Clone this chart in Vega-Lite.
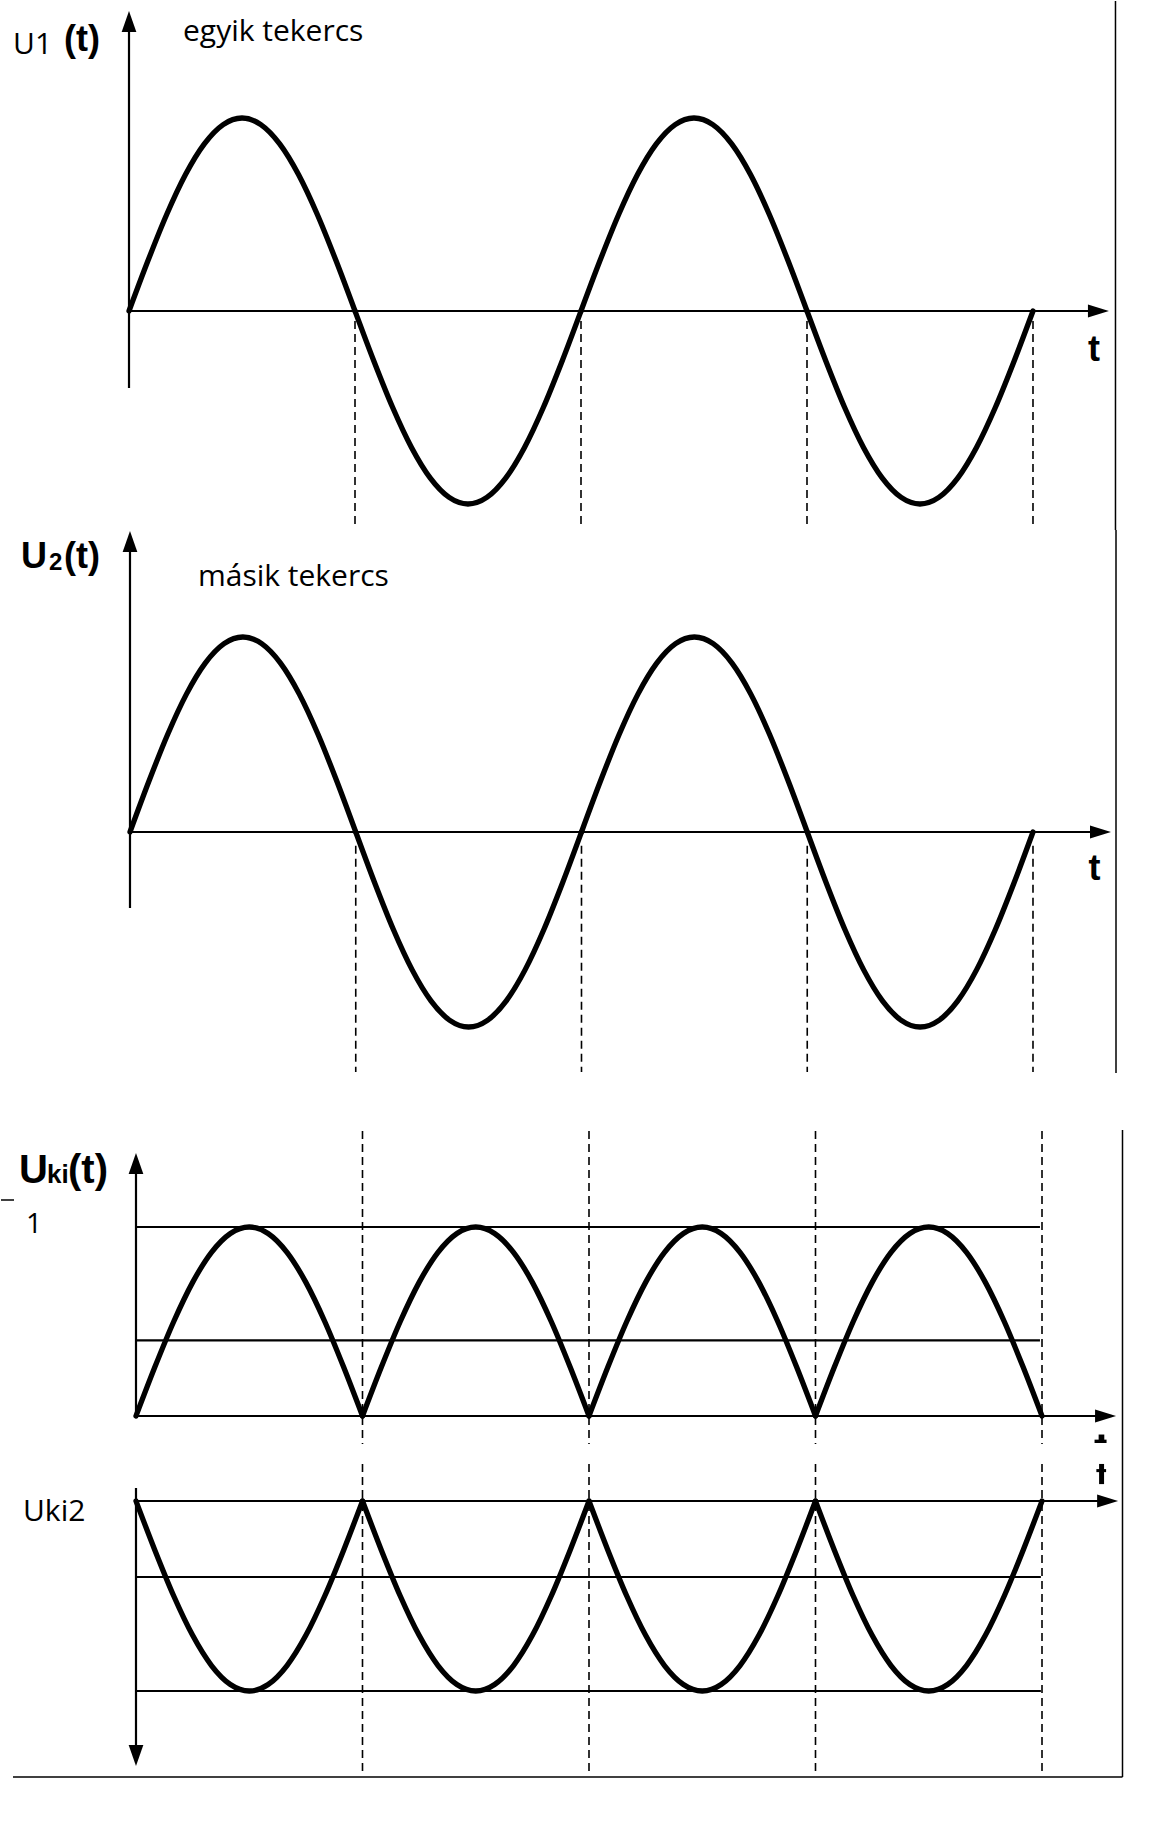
{
"$schema":"https://vega.github.io/schema/vega-lite/v6.json",
"padding":0,
"spacing":0,
"bounds":"flush",
"background":"white",
"config":{"view":{"stroke":null},"concat":{"spacing":0}},
"datasets":{
"sine":[
{"h":0,"t":0,"v":0},{"h":0,"t":0.0833,"v":0.2588},{"h":0,"t":0.1667,"v":0.5},{"h":0,"t":0.25,"v":0.7071},{"h":0,"t":0.3333,"v":0.866},{"h":0,"t":0.4167,"v":0.9659},{"h":0,"t":0.5,"v":1},{"h":0,"t":0.5833,"v":0.9659},{"h":0,"t":0.6667,"v":0.866},{"h":0,"t":0.75,"v":0.7071},{"h":0,"t":0.8333,"v":0.5},{"h":0,"t":0.9167,"v":0.2588},{"h":0,"t":1,"v":0},
{"h":1,"t":1,"v":0},{"h":1,"t":1.0833,"v":-0.2588},{"h":1,"t":1.1667,"v":-0.5},{"h":1,"t":1.25,"v":-0.7071},{"h":1,"t":1.3333,"v":-0.866},{"h":1,"t":1.4167,"v":-0.9659},{"h":1,"t":1.5,"v":-1},{"h":1,"t":1.5833,"v":-0.9659},{"h":1,"t":1.6667,"v":-0.866},{"h":1,"t":1.75,"v":-0.7071},{"h":1,"t":1.8333,"v":-0.5},{"h":1,"t":1.9167,"v":-0.2588},{"h":1,"t":2,"v":0},
{"h":2,"t":2,"v":0},{"h":2,"t":2.0833,"v":0.2588},{"h":2,"t":2.1667,"v":0.5},{"h":2,"t":2.25,"v":0.7071},{"h":2,"t":2.3333,"v":0.866},{"h":2,"t":2.4167,"v":0.9659},{"h":2,"t":2.5,"v":1},{"h":2,"t":2.5833,"v":0.9659},{"h":2,"t":2.6667,"v":0.866},{"h":2,"t":2.75,"v":0.7071},{"h":2,"t":2.8333,"v":0.5},{"h":2,"t":2.9167,"v":0.2588},{"h":2,"t":3,"v":0},
{"h":3,"t":3,"v":0},{"h":3,"t":3.0833,"v":-0.2588},{"h":3,"t":3.1667,"v":-0.5},{"h":3,"t":3.25,"v":-0.7071},{"h":3,"t":3.3333,"v":-0.866},{"h":3,"t":3.4167,"v":-0.9659},{"h":3,"t":3.5,"v":-1},{"h":3,"t":3.5833,"v":-0.9659},{"h":3,"t":3.6667,"v":-0.866},{"h":3,"t":3.75,"v":-0.7071},{"h":3,"t":3.8333,"v":-0.5},{"h":3,"t":3.9167,"v":-0.2588},{"h":3,"t":4,"v":0}
],
"rectified":[
{"h":0,"t":0,"v":0},{"h":0,"t":0.0833,"v":0.2588},{"h":0,"t":0.1667,"v":0.5},{"h":0,"t":0.25,"v":0.7071},{"h":0,"t":0.3333,"v":0.866},{"h":0,"t":0.4167,"v":0.9659},{"h":0,"t":0.5,"v":1},{"h":0,"t":0.5833,"v":0.9659},{"h":0,"t":0.6667,"v":0.866},{"h":0,"t":0.75,"v":0.7071},{"h":0,"t":0.8333,"v":0.5},{"h":0,"t":0.9167,"v":0.2588},{"h":0,"t":1,"v":0},
{"h":1,"t":1,"v":0},{"h":1,"t":1.0833,"v":0.2588},{"h":1,"t":1.1667,"v":0.5},{"h":1,"t":1.25,"v":0.7071},{"h":1,"t":1.3333,"v":0.866},{"h":1,"t":1.4167,"v":0.9659},{"h":1,"t":1.5,"v":1},{"h":1,"t":1.5833,"v":0.9659},{"h":1,"t":1.6667,"v":0.866},{"h":1,"t":1.75,"v":0.7071},{"h":1,"t":1.8333,"v":0.5},{"h":1,"t":1.9167,"v":0.2588},{"h":1,"t":2,"v":0},
{"h":2,"t":2,"v":0},{"h":2,"t":2.0833,"v":0.2588},{"h":2,"t":2.1667,"v":0.5},{"h":2,"t":2.25,"v":0.7071},{"h":2,"t":2.3333,"v":0.866},{"h":2,"t":2.4167,"v":0.9659},{"h":2,"t":2.5,"v":1},{"h":2,"t":2.5833,"v":0.9659},{"h":2,"t":2.6667,"v":0.866},{"h":2,"t":2.75,"v":0.7071},{"h":2,"t":2.8333,"v":0.5},{"h":2,"t":2.9167,"v":0.2588},{"h":2,"t":3,"v":0},
{"h":3,"t":3,"v":0},{"h":3,"t":3.0833,"v":0.2588},{"h":3,"t":3.1667,"v":0.5},{"h":3,"t":3.25,"v":0.7071},{"h":3,"t":3.3333,"v":0.866},{"h":3,"t":3.4167,"v":0.9659},{"h":3,"t":3.5,"v":1},{"h":3,"t":3.5833,"v":0.9659},{"h":3,"t":3.6667,"v":0.866},{"h":3,"t":3.75,"v":0.7071},{"h":3,"t":3.8333,"v":0.5},{"h":3,"t":3.9167,"v":0.2588},{"h":3,"t":4,"v":0}
],
"lines":[
{"p":1,"t":0,"t2":4.29,"v":0,"v2":0},{"p":1,"t":0,"t2":0,"v":-0.399,"v2":1.5},
{"p":2,"t":0,"t2":4.3,"v":0,"v2":0},{"p":2,"t":0,"t2":0,"v":-0.39,"v2":1.49},
{"p":3,"t":0,"t2":4.28,"v":0,"v2":0},{"p":3,"t":0,"t2":3.991,"v":1,"v2":1},{"p":3,"t":0,"t2":3.991,"v":0.4,"v2":0.4},{"p":3,"t":0,"t2":0,"v":0,"v2":1.34},
{"p":4,"t":0,"t2":4.29,"v":0,"v2":0},{"p":4,"t":0,"t2":3.995,"v":0.4,"v2":0.4},{"p":4,"t":0,"t2":3.995,"v":1,"v2":1},{"p":4,"t":0,"t2":0,"v":-0.068,"v2":1.342}
],
"frames":[
{"p":1,"t":4.365,"t2":4.365,"v":1.6062,"v2":-1.1347},
{"p":2,"t":4.3677,"t2":4.3677,"v":1.5487,"v2":-1.236},
{"p":3,"t":4.3554,"t2":4.3554,"v":1.513,"v2":-0.2275},{"p":3,"t":-0.596,"t2":-0.5386,"v":1.1429,"v2":1.1429},
{"p":4,"t":4.3554,"t2":4.3554,"v":-0.2211,"v2":1.4526},{"p":4,"t":-0.543,"t2":4.3554,"v":1.4526,"v2":1.4526}
],
"dashes":[
{"p":1,"t":1,"t2":1,"v":-0.052,"v2":-1.13},{"p":1,"t":2,"t2":2,"v":-0.052,"v2":-1.13},{"p":1,"t":3,"t2":3,"v":-0.052,"v2":-1.13},{"p":1,"t":4,"t2":4,"v":-0.052,"v2":-1.13},
{"p":2,"t":1,"t2":1,"v":-0.07,"v2":-1.231},{"p":2,"t":2,"t2":2,"v":-0.07,"v2":-1.231},{"p":2,"t":3,"t2":3,"v":-0.07,"v2":-1.231},{"p":2,"t":4,"t2":4,"v":-0.07,"v2":-1.231},
{"p":3,"t":1,"t2":1,"v":1.508,"v2":-0.148},{"p":3,"t":2,"t2":2,"v":1.508,"v2":-0.148},{"p":3,"t":3,"t2":3,"v":1.508,"v2":-0.148},{"p":3,"t":4,"t2":4,"v":1.508,"v2":-0.148},
{"p":4,"t":1,"t2":1,"v":-0.195,"v2":1.421},{"p":4,"t":2,"t2":2,"v":-0.195,"v2":1.421},{"p":4,"t":3,"t2":3,"v":-0.195,"v2":1.421},{"p":4,"t":4,"t2":4,"v":-0.195,"v2":1.421}
],
"arrows":[
{"p":1,"t":4.336,"v":0,"dir":"right"},{"p":1,"t":0,"v":1.554,"dir":"up"},
{"p":2,"t":4.3455,"v":0,"dir":"right"},{"p":2,"t":0,"v":1.5436,"dir":"up"},
{"p":3,"t":4.327,"v":0,"dir":"right"},{"p":3,"t":0,"v":1.392,"dir":"up"},
{"p":4,"t":4.336,"v":0,"dir":"right"},{"p":4,"t":0,"v":1.395,"dir":"down"}
],
"bits":[
{"p":3,"t":4.25,"t2":4.275,"v":-0.098,"v2":-0.143},
{"p":3,"t":4.232,"t2":4.285,"v":-0.125,"v2":-0.143},
{"p":4,"t":4.252,"t2":4.274,"v":-0.195,"v2":-0.089},
{"p":4,"t":4.24,"t2":4.283,"v":-0.168,"v2":-0.152}
],
"labels":[
{"p":1,"t":-0.513,"v":1.332,"text":"U1","role":"caption"},
{"p":1,"t":-0.288,"v":1.347,"text":"(t)","role":"name"},
{"p":1,"t":0.239,"v":1.399,"text":"egyik tekercs","role":"caption"},
{"p":1,"t":4.27,"v":-0.259,"text":"t","role":"axis"},
{"p":2,"t":-0.483,"v":1.354,"text":"U","role":"name"},
{"p":2,"t":-0.359,"v":1.344,"text":"2","role":"sub"},
{"p":2,"t":-0.292,"v":1.354,"text":"(t)","role":"name"},
{"p":2,"t":0.301,"v":1.262,"text":"másik tekercs","role":"caption"},
{"p":2,"t":4.272,"v":-0.246,"text":"t","role":"axis"},
{"p":3,"t":-0.5166,"v":1.2328,"text":"U","role":"name"},
{"p":3,"t":-0.3929,"v":1.2328,"text":"ki","role":"sub"},
{"p":3,"t":-0.3002,"v":1.2328,"text":"(t)","role":"name"},
{"p":3,"t":-0.4857,"v":0.968,"text":"1","role":"caption"},
{"p":4,"t":-0.4989,"v":0.105,"text":"Uki2","role":"caption"}
]
},
"vconcat":[
{
"width":1176,"height":529,
"encoding":{
"x":{"field":"t","type":"quantitative","scale":{"domain":[-0.5664,4.6372],"nice":false,"zero":false},"axis":null},
"y":{"field":"v","type":"quantitative","scale":{"domain":[-1.1347,1.6062],"nice":false,"zero":false},"axis":null}
},
"layer":[
{"data":{"name":"lines"},"transform":[{"filter":"datum.p==1"}],"mark":{"type":"rule","color":"black","strokeWidth":2.2},"encoding":{"x2":{"field":"t2"},"y2":{"field":"v2"}}},
{"data":{"name":"frames"},"transform":[{"filter":"datum.p==1"}],"mark":{"type":"rule","color":"black","strokeWidth":1.5},"encoding":{"x2":{"field":"t2"},"y2":{"field":"v2"}}},
{"data":{"name":"dashes"},"transform":[{"filter":"datum.p==1"}],"mark":{"type":"rule","color":"black","strokeWidth":1.6,"strokeDash":[8,5]},"encoding":{"x2":{"field":"t2"},"y2":{"field":"v2"}}},
{"data":{"name":"sine"},"mark":{"type":"line","color":"black","strokeWidth":5.3,"interpolate":"monotone","strokeCap":"round"},"encoding":{"detail":{"field":"h"}}},
{"data":{"name":"arrows"},"transform":[{"filter":"datum.p==1"}],"mark":{"type":"point","filled":true,"color":"black","opacity":1,"size":441,"strokeWidth":0},"encoding":{"shape":{"field":"dir","scale":{"domain":["up","right","down"],"range":["M0,0L-0.7,2L0.7,2Z","M0,0L-2,-0.62L-2,0.62Z","M0,0L-0.7,-2L0.7,-2Z"]},"legend":null}}},
{"data":{"name":"labels"},"transform":[{"filter":"datum.p==1 && datum.role=='caption'"}],"mark":{"type":"text","font":"Open Sans","fontSize":30,"align":"left","baseline":"alphabetic","color":"black"},"encoding":{"text":{"field":"text"}}},
{"data":{"name":"labels"},"transform":[{"filter":"datum.p==1 && datum.role=='name'"}],"mark":{"type":"text","font":"Liberation Sans","fontWeight":"bold","fontSize":36,"align":"left","baseline":"alphabetic","color":"black"},"encoding":{"text":{"field":"text"}}},
{"data":{"name":"labels"},"transform":[{"filter":"datum.p==1 && datum.role=='axis'"}],"mark":{"type":"text","font":"Liberation Sans","fontWeight":"bold","fontSize":36,"align":"center","baseline":"alphabetic","color":"black"},"encoding":{"text":{"field":"text"}}}
]
},
{
"width":1176,"height":571,
"encoding":{
"x":{"field":"t","type":"quantitative","scale":{"domain":[-0.5714,4.6379],"nice":false,"zero":false},"axis":null},
"y":{"field":"v","type":"quantitative","scale":{"domain":[-1.3795,1.5487],"nice":false,"zero":false},"axis":null}
},
"layer":[
{"data":{"name":"lines"},"transform":[{"filter":"datum.p==2"}],"mark":{"type":"rule","color":"black","strokeWidth":2.2},"encoding":{"x2":{"field":"t2"},"y2":{"field":"v2"}}},
{"data":{"name":"frames"},"transform":[{"filter":"datum.p==2"}],"mark":{"type":"rule","color":"black","strokeWidth":1.5},"encoding":{"x2":{"field":"t2"},"y2":{"field":"v2"}}},
{"data":{"name":"dashes"},"transform":[{"filter":"datum.p==2"}],"mark":{"type":"rule","color":"black","strokeWidth":1.6,"strokeDash":[8,5]},"encoding":{"x2":{"field":"t2"},"y2":{"field":"v2"}}},
{"data":{"name":"sine"},"mark":{"type":"line","color":"black","strokeWidth":5.3,"interpolate":"monotone","strokeCap":"round"},"encoding":{"detail":{"field":"h"}}},
{"data":{"name":"arrows"},"transform":[{"filter":"datum.p==2"}],"mark":{"type":"point","filled":true,"color":"black","opacity":1,"size":441,"strokeWidth":0},"encoding":{"shape":{"field":"dir","scale":{"domain":["up","right","down"],"range":["M0,0L-0.7,2L0.7,2Z","M0,0L-2,-0.62L-2,0.62Z","M0,0L-0.7,-2L0.7,-2Z"]},"legend":null}}},
{"data":{"name":"labels"},"transform":[{"filter":"datum.p==2 && datum.role=='caption'"}],"mark":{"type":"text","font":"Open Sans","fontSize":30,"align":"left","baseline":"alphabetic","color":"black"},"encoding":{"text":{"field":"text"}}},
{"data":{"name":"labels"},"transform":[{"filter":"datum.p==2 && datum.role=='name'"}],"mark":{"type":"text","font":"Liberation Sans","fontWeight":"bold","fontSize":36,"align":"left","baseline":"alphabetic","color":"black"},"encoding":{"text":{"field":"text"}}},
{"data":{"name":"labels"},"transform":[{"filter":"datum.p==2 && datum.role=='sub'"}],"mark":{"type":"text","font":"Liberation Sans","fontWeight":"bold","fontSize":24,"align":"left","baseline":"alphabetic","color":"black"},"encoding":{"text":{"field":"text"}}},
{"data":{"name":"labels"},"transform":[{"filter":"datum.p==2 && datum.role=='axis'"}],"mark":{"type":"text","font":"Liberation Sans","fontWeight":"bold","fontSize":36,"align":"center","baseline":"alphabetic","color":"black"},"encoding":{"text":{"field":"text"}}}
]
},
{
"width":1176,"height":358,
"encoding":{
"x":{"field":"t","type":"quantitative","scale":{"domain":[-0.596,4.596],"nice":false,"zero":false},"axis":null},
"y":{"field":"v","type":"quantitative","scale":{"domain":[-0.2275,1.6667],"nice":false,"zero":false},"axis":null}
},
"layer":[
{"data":{"name":"lines"},"transform":[{"filter":"datum.p==3"}],"mark":{"type":"rule","color":"black","strokeWidth":2.2},"encoding":{"x2":{"field":"t2"},"y2":{"field":"v2"}}},
{"data":{"name":"frames"},"transform":[{"filter":"datum.p==3"}],"mark":{"type":"rule","color":"black","strokeWidth":1.5},"encoding":{"x2":{"field":"t2"},"y2":{"field":"v2"}}},
{"data":{"name":"dashes"},"transform":[{"filter":"datum.p==3"}],"mark":{"type":"rule","color":"black","strokeWidth":1.6,"strokeDash":[8,5]},"encoding":{"x2":{"field":"t2"},"y2":{"field":"v2"}}},
{"data":{"name":"rectified"},"mark":{"type":"line","color":"black","strokeWidth":5.3,"interpolate":"monotone","strokeCap":"round"},"encoding":{"detail":{"field":"h"}}},
{"data":{"name":"bits"},"transform":[{"filter":"datum.p==3"}],"mark":{"type":"rect","color":"black"},"encoding":{"x2":{"field":"t2"},"y2":{"field":"v2"}}},
{"data":{"name":"arrows"},"transform":[{"filter":"datum.p==3"}],"mark":{"type":"point","filled":true,"color":"black","opacity":1,"size":441,"strokeWidth":0},"encoding":{"shape":{"field":"dir","scale":{"domain":["up","right","down"],"range":["M0,0L-0.7,2L0.7,2Z","M0,0L-2,-0.62L-2,0.62Z","M0,0L-0.7,-2L0.7,-2Z"]},"legend":null}}},
{"data":{"name":"labels"},"transform":[{"filter":"datum.p==3 && datum.role=='caption'"}],"mark":{"type":"text","font":"Open Sans","fontSize":28,"align":"left","baseline":"alphabetic","color":"black"},"encoding":{"text":{"field":"text"}}},
{"data":{"name":"labels"},"transform":[{"filter":"datum.p==3 && datum.role=='name'"}],"mark":{"type":"text","font":"Liberation Sans","fontWeight":"bold","fontSize":40,"align":"left","baseline":"alphabetic","color":"black"},"encoding":{"text":{"field":"text"}}},
{"data":{"name":"labels"},"transform":[{"filter":"datum.p==3 && datum.role=='sub'"}],"mark":{"type":"text","font":"Liberation Sans","fontWeight":"bold","fontSize":26,"align":"left","baseline":"alphabetic","color":"black"},"encoding":{"text":{"field":"text"}}}
]
},
{
"width":1176,"height":380,
"encoding":{
"x":{"field":"t","type":"quantitative","scale":{"domain":[-0.596,4.596],"nice":false,"zero":false},"axis":null},
"y":{"field":"v","type":"quantitative","scale":{"domain":[-0.2211,1.7789],"nice":false,"zero":false,"reverse":true},"axis":null}
},
"layer":[
{"data":{"name":"lines"},"transform":[{"filter":"datum.p==4"}],"mark":{"type":"rule","color":"black","strokeWidth":2.2},"encoding":{"x2":{"field":"t2"},"y2":{"field":"v2"}}},
{"data":{"name":"frames"},"transform":[{"filter":"datum.p==4"}],"mark":{"type":"rule","color":"black","strokeWidth":1.5},"encoding":{"x2":{"field":"t2"},"y2":{"field":"v2"}}},
{"data":{"name":"dashes"},"transform":[{"filter":"datum.p==4"}],"mark":{"type":"rule","color":"black","strokeWidth":1.6,"strokeDash":[8,5]},"encoding":{"x2":{"field":"t2"},"y2":{"field":"v2"}}},
{"data":{"name":"rectified"},"mark":{"type":"line","color":"black","strokeWidth":5.3,"interpolate":"monotone","strokeCap":"round"},"encoding":{"detail":{"field":"h"}}},
{"data":{"name":"bits"},"transform":[{"filter":"datum.p==4"}],"mark":{"type":"rect","color":"black"},"encoding":{"x2":{"field":"t2"},"y2":{"field":"v2"}}},
{"data":{"name":"arrows"},"transform":[{"filter":"datum.p==4"}],"mark":{"type":"point","filled":true,"color":"black","opacity":1,"size":441,"strokeWidth":0},"encoding":{"shape":{"field":"dir","scale":{"domain":["up","right","down"],"range":["M0,0L-0.7,2L0.7,2Z","M0,0L-2,-0.62L-2,0.62Z","M0,0L-0.7,-2L0.7,-2Z"]},"legend":null}}},
{"data":{"name":"labels"},"transform":[{"filter":"datum.p==4 && datum.role=='caption'"}],"mark":{"type":"text","font":"Open Sans","fontSize":30,"align":"left","baseline":"alphabetic","color":"black"},"encoding":{"text":{"field":"text"}}}
]
}
]
}
